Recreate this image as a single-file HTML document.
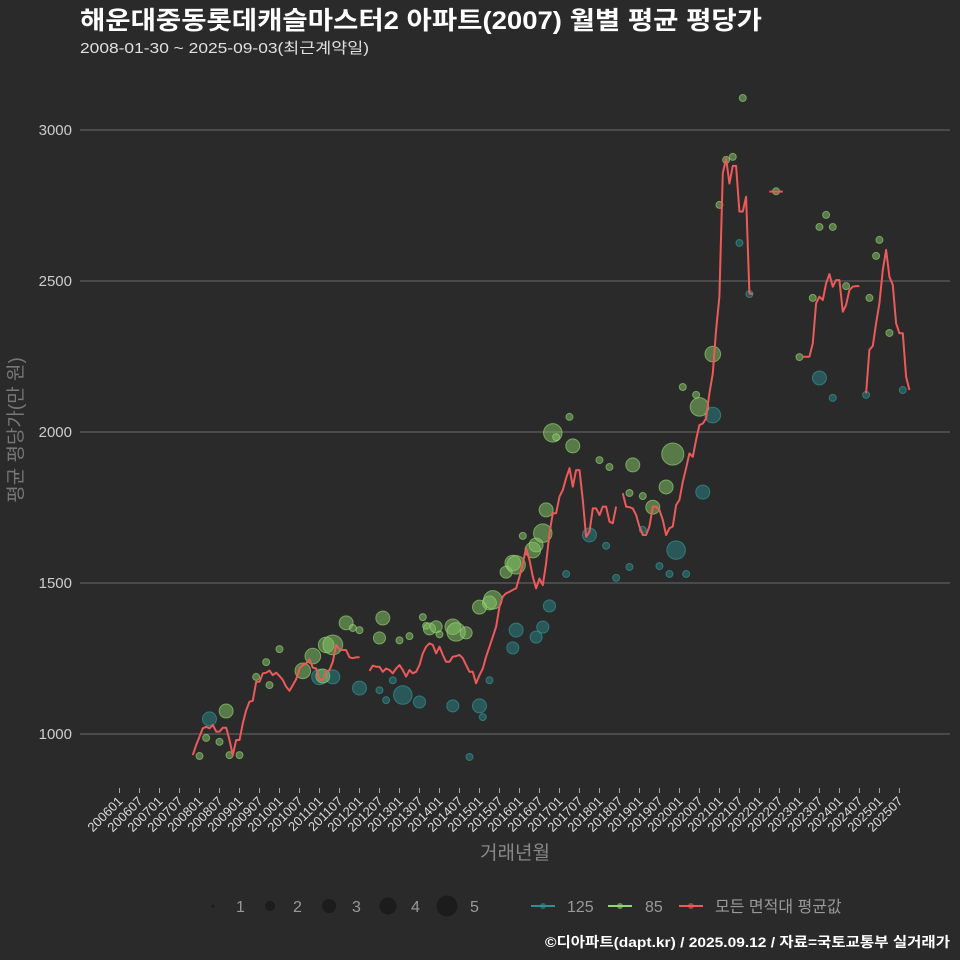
<!DOCTYPE html>
<html><head><meta charset="utf-8">
<style>
html,body{margin:0;padding:0;background:#2a2a2b;}
svg{display:block;font-family:"Liberation Sans","Noto Sans CJK KR",sans-serif;}
</style></head>
<body>
<svg id="chart" width="960" height="960" viewBox="0 0 960 960">
<rect width="960" height="960" fill="#2a2a2b"/>
<text x="80" y="29" fill="#ffffff" font-size="25" font-weight="bold" textLength="682" lengthAdjust="spacingAndGlyphs">해운대중동롯데캐슬마스터2 아파트(2007) 월별 평균 평당가</text>
<text x="80" y="53" fill="#e0e0e0" font-size="15" textLength="289" lengthAdjust="spacingAndGlyphs">2008-01-30 ~ 2025-09-03(최근계약일)</text>
<g id="grid"></g>
<g id="yticks"></g>
<g id="xticks"></g>
<g id="pts125"></g>
<g id="pts85"></g>
<g id="avgline"></g>
<text transform="translate(22,430) rotate(-90)" text-anchor="middle" fill="#777" font-size="19">평균 평당가(만 원)</text>
<text x="515" y="859" text-anchor="middle" fill="#888" font-size="19">거래년월</text>
<g id="legend"></g>
<text x="950" y="947" text-anchor="end" fill="#ffffff" font-size="14" font-weight="bold" textLength="405" lengthAdjust="spacingAndGlyphs">©디아파트(dapt.kr) / 2025.09.12 / 자료=국토교통부 실거래가</text>
</svg>
<script>
const yTicks = [1000, 1500, 2000, 2500, 3000];
const xTickLabels = ["200601","200607","200701","200707","200801","200807","200901","200907","201001","201007","201101","201107","201201","201207","201301","201307","201401","201407","201501","201507","201601","201607","201701","201707","201801","201807","201901","201907","202001","202007","202101","202107","202201","202207","202301","202307","202401","202407","202501","202507"];
const avgStart = "2007-11";
const avgValues = [930,964,991,1019,1024,1019,1030,1008,1008,1021,1021,980,930,980,980,1035,1079,1107,1110,1173,1173,1201,1203,1210,1195,1203,1192,1179,1157,1143,1162,1181,1217,1228,1234,1247,1220,1217,1179,1179,1206,1212,1239,1295,1280,1278,1278,1254,1251,1254,1254,
null,null,
1209,1226,1223,1223,1206,1217,1212,1201,1217,1228,1212,1190,1212,1201,1206,1228,1267,1289,1300,1295,1267,1289,1262,1239,1239,1256,1258,1262,1251,1228,1206,1206,1168,1195,1217,
1256,1289,1322,1355,1422,1455,1466,1471,1477,1482,1521,1565,1615,1576,1521,1482,1515,1493,1565,1665,1731,1731,1786,1808,1847,1880,1819,1874,1874,1775,1653,1670,1747,1747,1725,1753,1753,1703,1698,1753,
null,
1797,1753,1751,1747,1725,1687,1659,1659,1687,1753,1753,1742,1709,1659,1681,1687,1758,1775,1835,1880,1929,1918,1974,2023,2028,2045,
2128,2194,2338,2448,2857,2906,2823,2881,2881,2730,2730,2779,2459,2457,
null,null,null,null,
2796,2796,2796,2796,2796,
null,null,null,null,null,
2249,2249,2249,2294,2426,2448,2437,2492,2523,2481,2503,2503,2398,2421,2470,2481,2483,2483,
null,
2128,2272,2285,2360,2426,2536,2603,2514,2487,2360,2327,2327,2183,2139];

const g85Months = ["2008-01","2008-03","2008-09","2008-07","2008-10","2009-01","2009-06","2009-09","2009-10","2010-01","2010-08","2010-11","2011-03","2011-05","2011-09","2011-02","2011-11","2012-01","2012-07","2012-08","2013-01","2013-04","2013-08","2013-09","2013-10","2013-12","2014-01","2014-05","2014-06","2014-09","2015-01","2015-04","2015-05","2015-09","2015-11","2015-12","2016-02","2016-05","2016-06","2016-08","2016-09","2016-11","2016-12","2017-05","2017-04","2018-01","2018-04","2018-11","2018-10","2019-02","2019-05","2019-09","2019-11","2020-02","2020-06","2020-07","2020-11","2021-01","2021-03","2021-05","2021-08","2022-06","2023-01","2023-05","2023-07","2023-09","2023-11","2024-03","2024-10","2024-12","2025-01","2025-04"];
const g85Values = [927,987,1076,974,930,930,1189,1238,1162,1281,1209,1258,1295,1295,1368,1192,1351,1344,1318,1384,1310,1324,1387,1358,1348,1355,1330,1355,1338,1335,1420,1434,1444,1536,1566,1560,1656,1609,1626,1665,1742,1997,1983,1954,2050,1907,1884,1891,1798,1788,1751,1818,1927,2149,2123,2083,2258,2752,2901,2911,3106,2797,2248,2444,2679,2719,2679,2483,2444,2583,2636,2328];
const g85Counts = [1,1,4,1,1,1,1,1,1,1,5,5,5,8,4,4,1,1,3,4,1,1,1,1,3,3,1,5,7,3,4,4,7,3,5,7,1,5,4,7,4,7,1,4,1,1,1,4,1,1,4,4,10,1,1,7,5,1,1,1,1,1,1,1,1,1,1,1,1,1,1,1];

const t125Months = ["2008-04","2011-05","2011-01","2012-01","2012-07","2012-09","2012-11","2013-02","2013-07","2014-05","2014-10","2015-01","2015-02","2015-04","2015-11","2015-12","2016-06","2016-08","2016-10","2017-03","2017-10","2018-03","2018-06","2018-10","2019-02","2019-07","2019-12","2019-10","2020-03","2020-08","2020-11","2021-07","2021-10","2023-07","2023-11","2024-09","2025-08"];
const t125Values = [1050,1189,1189,1152,1145,1112,1178,1129,1106,1093,924,1093,1056,1178,1285,1344,1321,1354,1424,1530,1659,1623,1517,1553,1676,1556,1609,1530,1530,1801,2056,2626,2457,2179,2113,2123,2139];
const t125Counts = [4,4,5,4,1,1,1,7,3,3,1,4,1,1,3,4,3,3,3,1,4,1,1,1,1,1,7,1,1,4,5,1,1,4,1,1,1];

const NS = "http://www.w3.org/2000/svg";
const X0 = 119.5, XSTEP = 3.333, Y1000 = 734, YPX = 0.302;
function monthIndex(s){ const p = s.split("-"); return (parseInt(p[0])-2006)*12 + (parseInt(p[1])-1); }
function xScale(m){ return X0 + XSTEP*m; }
function yScale(v){ return Y1000 - (v-1000)*YPX; }
function rScale(c){ return 3.5*Math.sqrt(c); }
function mk(tag, attrs, parent){ const e = document.createElementNS(NS, tag); for (const k in attrs) e.setAttribute(k, attrs[k]); parent.appendChild(e); return e; }

const grid = document.getElementById("grid");
const yt = document.getElementById("yticks");
yTicks.forEach(v => {
  const l = mk("line", {x1:80, x2:950, y1:yScale(v), y2:yScale(v), stroke:"#6a6a6a", "stroke-width":1}, grid);
  
  
  const t = mk("text", {x:72, y:yScale(v)+5, "text-anchor":"end", fill:"#cccccc", "font-size":15}, yt);
  t.textContent = v;
  
  
});

const xt = document.getElementById("xticks");
xTickLabels.forEach((lab, i) => {
  const x = xScale(i*6);
  const tk = mk("line", {x1:x, x2:x, y1:788, y2:793, stroke:"#aaaaaa", "stroke-width":1}, xt);
  
  
  const ax = x + 4, ay = 802;
  const t = mk("text", {x:ax, y:ay, "text-anchor":"end", fill:"#dddddd", "font-size":13, transform:"rotate(-45 "+ax+" "+ay+")"}, xt);
  t.textContent = lab;
  
  
});

function drawPts(gid, months, values, counts, fill, stroke, name){
  const g = document.getElementById(gid);
  months.forEach((m, i) => {
    const c = mk("circle", {cx:xScale(monthIndex(m)), cy:yScale(values[i]), r:rScale(counts[i]), fill:fill, "fill-opacity":0.5, stroke:stroke, "stroke-opacity":0.6, "stroke-width":1}, g);
    
    
  });
}
drawPts("pts125", t125Months, t125Values, t125Counts, "#2a8587", "#35a0a0", "point-125");
drawPts("pts85", g85Months, g85Values, g85Counts, "#86c766", "#9ddc78", "point-85");

const lg = document.getElementById("avgline");
const s0 = monthIndex(avgStart);
let seg = [];
function flush(){
  if (seg.length > 1) {
    const p = mk("polyline", {points:seg.join(" "), fill:"none", stroke:"#ec5a5a", "stroke-width":2, "stroke-linejoin":"round"}, lg);
    
    
  }
  seg = [];
}
avgValues.forEach((v, i) => {
  if (v === null) { flush(); return; }
  seg.push(xScale(s0+i).toFixed(1)+","+yScale(v).toFixed(1));
});
flush();

const leg = document.getElementById("legend");
const legendSizes = [1.5, 5, 7, 8.5, 10.5];
const legendX = [213, 270, 329, 388, 447];
legendSizes.forEach((r, i) => {
  const c = mk("circle", {cx:legendX[i], cy:906, r:r, fill:"#1c1c1c"}, leg);
  
  
  const t = mk("text", {x:legendX[i]+23, y:912, fill:"#999", "font-size":16}, leg);
  t.textContent = String(i+1);
  
  
});
const serLeg = [["125","#2a9190",531,567],["85","#8fd66c",608,645],["모든 면적대 평균값","#ec5a5a",679,715]];
serLeg.forEach(s => {
  const l = mk("line", {x1:s[2], x2:s[2]+24, y1:906, y2:906, stroke:s[1], "stroke-width":2}, leg);
  
  
  const c = mk("circle", {cx:s[2]+12, cy:906, r:3, fill:s[1], "fill-opacity":0.6}, leg);
  
  
  const t = mk("text", {x:s[3], y:912, fill:"#999", "font-size":16}, leg);
  t.textContent = s[0];
  
  
});
</script>
</body></html>
